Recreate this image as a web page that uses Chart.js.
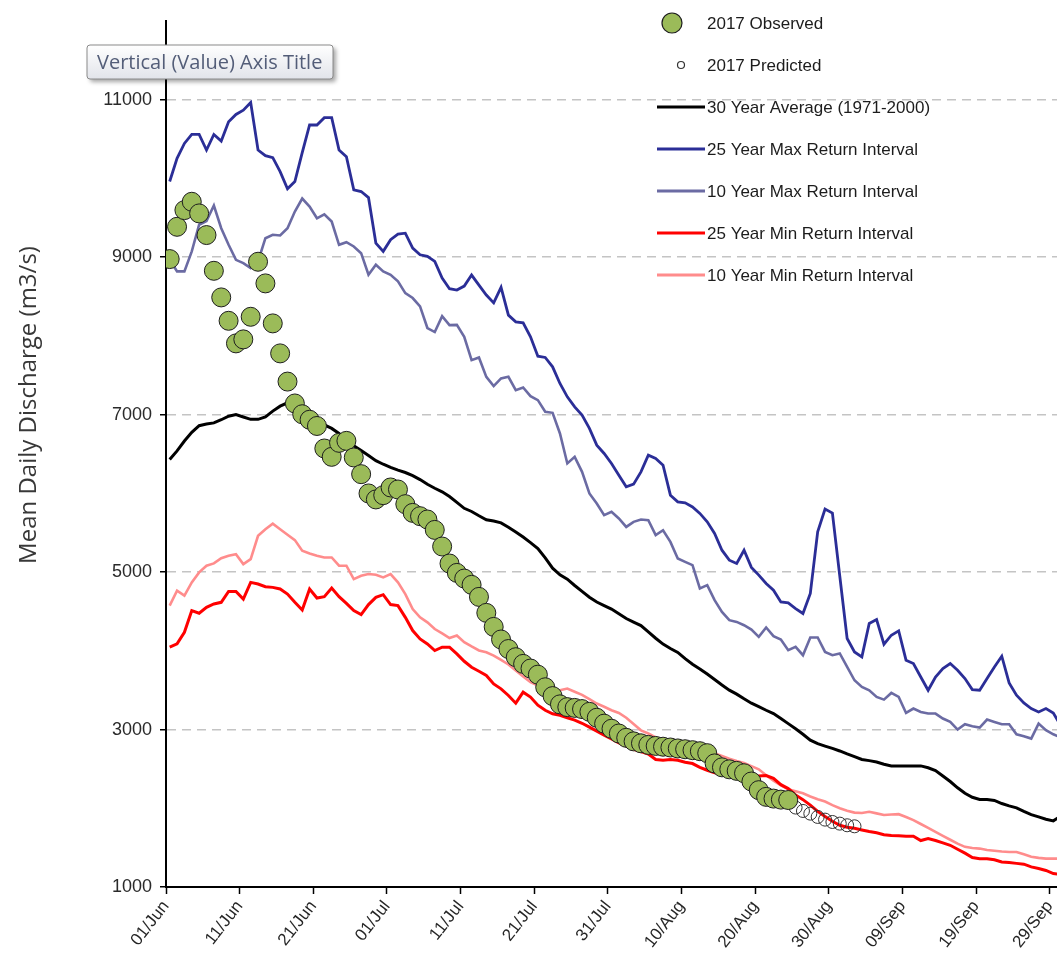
<!DOCTYPE html>
<html>
<head>
<meta charset="utf-8">
<title>Mean Daily Discharge 2017</title>
<script src="https://cdn.jsdelivr.net/npm/chart.js@4.4.1/dist/chart.umd.min.js"></script>
<style>
    html, body { margin: 0; padding: 0; background: #fff; overflow: hidden; }
    #discharge { display: block; }
</style>
</head>
<body>
<canvas id="discharge" width="1057" height="966"></canvas>
<script>
// ===== DATA — daily mean discharge (m3/s), day 0 = 01/Jun =====
const tickDays = [0, 10, 20, 30, 40, 50, 60, 70, 80, 90, 100, 110, 120];
const tickLabels = ['01/Jun', '11/Jun', '21/Jun', '01/Jul', '11/Jul', '21/Jul', '31/Jul',
    '10/Aug', '20/Aug', '30/Aug', '09/Sep', '19/Sep', '29/Sep'];
const valueTicks = [1000, 3000, 5000, 7000, 9000, 11000];

const observed2017 = [
    8976, 9386, 9598, 9704, 9556, 9281, 8827, 8489, 8192, 7905,
    7956, 8243, 8942, 8667, 8159, 7778, 7420, 7142, 7005, 6935,
    6856, 6570, 6464, 6642, 6667, 6456, 6244, 5999, 5923, 5977,
    6075, 6049, 5863, 5752, 5710, 5668, 5536, 5325, 5109, 4990,
    4918, 4838, 4685, 4482, 4304, 4144, 4023, 3919, 3834, 3775,
    3697, 3537, 3425, 3320, 3285, 3275, 3260, 3225, 3150, 3075,
    3010, 2950, 2895, 2850, 2825, 2805, 2792, 2782, 2772, 2760,
    2750, 2738, 2725, 2700, 2570, 2520, 2495, 2475, 2445, 2340,
    2230, 2145, 2123, 2110, 2105
];
const PREDICTED_FIRST_DAY = 85;
const predicted2017 = [2009, 1966, 1932, 1890, 1856, 1826, 1805, 1784, 1771];

const avg30yr = [
    6430, 6540, 6665, 6775, 6860, 6880, 6895, 6935, 6980, 7000,
    6970, 6940, 6940, 6970, 7045, 7108, 7150, 7085, 7035, 6985,
    6925, 6870, 6825, 6760, 6685, 6605, 6545, 6480, 6415, 6370,
    6330, 6295, 6265, 6225, 6175, 6115, 6065, 6020, 5960, 5885,
    5810, 5770, 5715, 5665, 5648, 5625, 5570, 5510, 5445, 5375,
    5300, 5180, 5050, 4965, 4910, 4830, 4755, 4680, 4620, 4575,
    4530, 4470, 4410, 4365, 4320, 4240, 4160, 4085, 4030, 3980,
    3900, 3830, 3770, 3705, 3635, 3565, 3500, 3450, 3390, 3335,
    3290, 3245, 3203, 3140, 3075, 3010, 2940, 2865, 2820, 2790,
    2760, 2728, 2690, 2655, 2620, 2605, 2588, 2560, 2538, 2538,
    2538, 2538, 2538, 2515, 2480, 2410, 2340, 2260, 2190, 2140,
    2112, 2110, 2100, 2060, 2030, 2005, 1960, 1920, 1890, 1860,
    1840, 1900
];
const max25yr = [
    9961, 10256, 10445, 10559, 10559, 10361, 10559, 10475, 10720, 10813,
    10868, 10965, 10361, 10290, 10264, 10087, 9868, 9961, 10327, 10679,
    10679, 10772, 10772, 10361, 10277, 9856, 9834, 9757, 9179, 9074,
    9222, 9292, 9305, 9115, 9030, 9010, 8946, 8735, 8600, 8582,
    8633, 8773, 8646, 8519, 8420, 8617, 8264, 8179, 8166, 7989,
    7743, 7726, 7607, 7396, 7226, 7099, 6994, 6825, 6612, 6507,
    6380, 6231, 6083, 6117, 6273, 6485, 6443, 6358, 5977, 5892,
    5879, 5828, 5745, 5638, 5491, 5278, 5151, 5109, 5278, 5060,
    4961, 4855, 4770, 4621, 4609, 4537, 4474, 4728, 5511, 5800,
    5750, 4950, 4156, 3986, 3923, 4347, 4398, 4084, 4198, 4253,
    3881, 3838, 3668, 3499, 3668, 3775, 3838, 3753, 3648, 3508,
    3499, 3648, 3795, 3931, 3592, 3436, 3338, 3267, 3224, 3267,
    3211, 3050
];
const max10yr = [
    8970, 8820, 8820, 9074, 9412, 9460, 9656, 9368, 9157, 8966,
    8924, 8861, 8946, 9241, 9284, 9276, 9368, 9580, 9745, 9643,
    9494, 9545, 9453, 9157, 9190, 9136, 9051, 8777, 8904, 8820,
    8777, 8693, 8544, 8481, 8376, 8100, 8049, 8250, 8137, 8140,
    7989, 7692, 7726, 7480, 7362, 7460, 7480, 7311, 7345, 7235,
    7184, 7036, 7023, 6761, 6380, 6464, 6273, 5999, 5872, 5723,
    5765, 5681, 5574, 5638, 5668, 5659, 5469, 5532, 5384, 5173,
    5130, 5088, 4792, 4834, 4643, 4494, 4389, 4367, 4325, 4270,
    4177, 4296, 4186, 4144, 4008, 4050, 3944, 4169, 4169, 3986,
    3944, 3966, 3795, 3626, 3541, 3499, 3414, 3380, 3465, 3414,
    3211, 3267, 3224, 3203, 3203, 3140, 3097, 3000, 3067, 3042,
    3025, 3127, 3097, 3067, 3067, 2940, 2915, 2885, 3076, 2991,
    2940, 2900
];
const min25yr = [
    4046, 4088, 4236, 4511, 4477, 4553, 4595, 4616, 4755, 4755,
    4658, 4869, 4848, 4814, 4806, 4785, 4721, 4616, 4518, 4785,
    4671, 4688, 4797, 4688, 4603, 4511, 4460, 4587, 4679, 4713,
    4587, 4574, 4425, 4257, 4151, 4088, 4004, 4046, 4046, 3961,
    3867, 3791, 3741, 3687, 3580, 3517, 3433, 3335, 3475, 3412,
    3310, 3245, 3200, 3182, 3150, 3120, 3080, 3030, 2980, 2930,
    2880, 2830, 2790, 2750, 2720, 2690, 2620, 2610, 2620, 2610,
    2585, 2568, 2520, 2483, 2450, 2441, 2441, 2441, 2420, 2400,
    2410, 2415, 2380, 2300, 2250, 2170, 2110, 2040, 1960, 1895,
    1835, 1784, 1760, 1745, 1725, 1705, 1690, 1665, 1655, 1650,
    1645, 1644, 1590, 1615, 1590, 1560, 1530, 1480, 1430, 1375,
    1360, 1360, 1345, 1318, 1310, 1300, 1290, 1255, 1235, 1210,
    1170, 1160
];
const min10yr = [
    4575, 4764, 4701, 4869, 4996, 5081, 5110, 5177, 5208, 5228,
    5101, 5164, 5461, 5545, 5616, 5545, 5474, 5406, 5271, 5237,
    5208, 5186, 5186, 5081, 5081, 4911, 4954, 4975, 4967, 4933,
    4975, 4869, 4721, 4531, 4425, 4361, 4277, 4222, 4163, 4194,
    4109, 4055, 4004, 3982, 3940, 3885, 3826, 3750, 3674, 3602,
    3560, 3538, 3500, 3499, 3521, 3480, 3440, 3385, 3330, 3290,
    3245, 3210, 3150, 3070, 2990, 2950, 2900, 2870, 2845, 2820,
    2800, 2780, 2760, 2735, 2700, 2665, 2630, 2600, 2575, 2535,
    2495, 2420, 2350, 2290, 2240, 2215, 2190, 2150, 2115, 2085,
    2040, 2000, 1970, 1945, 1940, 1955, 1935, 1915, 1920, 1925,
    1890, 1850, 1800, 1750, 1700, 1650, 1600, 1550, 1510, 1495,
    1488, 1470, 1460, 1450, 1445, 1445, 1415, 1385, 1370, 1360,
    1360, 1360
];

// daily means are stamped at midday, so each value sits half a day past its date tick
function toPoints(values, firstDay) {
    return values.map((v, i) => ({ x: firstDay + i + 0.5, y: v }));
}

function lineSet(label, values, color, width) {
    return {
        label: label,
        data: toPoints(values, 0),
        borderColor: color,
        backgroundColor: color,
        borderWidth: width,
        pointRadius: 0,
        tension: 0,
        fill: false
    };
}

// ===== LEGEND (drawn inside the plot, top right) =====
const LEGEND_X = 657;
const LEGEND_TOP = 23;
const LEGEND_ROW = 42;

const sideLegend = {
    id: 'sideLegend',
    afterDatasetsDraw(chart) {
        const ctx = chart.ctx;
        ctx.save();
        ctx.font = '17px "Liberation Sans", Arial, sans-serif';
        ctx.textBaseline = 'middle';
        chart.data.datasets.forEach((ds, i) => {
            const y = LEGEND_TOP + i * LEGEND_ROW;
            if (ds.showLine === false) {
                const r = ds.legendRadius;
                ctx.beginPath();
                ctx.arc(LEGEND_X + ds.legendOffset, y, r, 0, Math.PI * 2);
                if (ds.pointBackgroundColor !== 'transparent') {
                    ctx.fillStyle = ds.pointBackgroundColor;
                    ctx.fill();
                }
                ctx.lineWidth = 1.2;
                ctx.strokeStyle = ds.pointBorderColor;
                ctx.stroke();
            } else {
                ctx.beginPath();
                ctx.moveTo(LEGEND_X, y);
                ctx.lineTo(LEGEND_X + 48, y);
                ctx.lineWidth = 3;
                ctx.strokeStyle = ds.borderColor;
                ctx.stroke();
            }
            ctx.fillStyle = '#1c1c1c';
            ctx.fillText(ds.label, LEGEND_X + 50, y + 1);
        });
        ctx.restore();
    }
};

// ===== AXIS TITLES =====
const axisTitles = {
    id: 'axisTitles',
    afterDraw(chart) {
        const ctx = chart.ctx;
        ctx.save();

        // value axis title, rotated
        ctx.translate(29, 405);
        ctx.rotate(-Math.PI / 2);
        ctx.font = '24px "Open Sans", sans-serif';
        ctx.fillStyle = '#383838';
        ctx.textAlign = 'center';
        ctx.textBaseline = 'middle';
        ctx.fillText('Mean Daily Discharge (m3/s)', 0, 0);
        ctx.restore();

        // hover label box above the value axis
        ctx.save();
        const bx = 87, by = 45, bw = 246, bh = 34;
        ctx.shadowColor = 'rgba(0, 0, 0, 0.35)';
        ctx.shadowBlur = 4;
        ctx.shadowOffsetX = 3;
        ctx.shadowOffsetY = 3;
        const grad = ctx.createLinearGradient(0, by, 0, by + bh);
        grad.addColorStop(0, '#ffffff');
        grad.addColorStop(1, '#e2e4ea');
        ctx.fillStyle = grad;
        ctx.beginPath();
        ctx.roundRect(bx, by, bw, bh, 3);
        ctx.fill();
        ctx.shadowColor = 'transparent';
        ctx.lineWidth = 1;
        ctx.strokeStyle = '#8a8a8a';
        ctx.stroke();
        ctx.font = '20px "Open Sans", sans-serif';
        ctx.fillStyle = '#535d78';
        ctx.textBaseline = 'middle';
        ctx.fillText('Vertical (Value) Axis Title', bx + 10, by + bh / 2 + 1);
        ctx.restore();
    }
};

// ===== CHART =====
Chart.defaults.font.family = '"Liberation Sans", Arial, sans-serif';

const ctx = document.getElementById('discharge').getContext('2d');
const dischargeChart = new Chart(ctx, {
    type: 'line',
    data: {
        datasets: [
            {
                label: '2017 Observed',
                data: toPoints(observed2017, 0),
                showLine: false,
                pointRadius: 9.5,
                pointBackgroundColor: '#9bbb59',
                pointBorderColor: '#1e1e1e',
                pointBorderWidth: 1,
                legendRadius: 10,
                legendOffset: 15
            },
            {
                label: '2017 Predicted',
                data: toPoints(predicted2017, PREDICTED_FIRST_DAY),
                showLine: false,
                pointRadius: 6.5,
                pointBackgroundColor: 'transparent',
                pointBorderColor: '#333',
                pointBorderWidth: 1,
                legendRadius: 3.5,
                legendOffset: 24
            },
            lineSet('30 Year Average (1971-2000)', avg30yr, '#000000', 3),
            lineSet('25 Year Max Return Interval', max25yr, '#2b2e97', 2.8),
            lineSet('10 Year Max Return Interval', max10yr, '#6b6ba3', 2.6),
            lineSet('25 Year Min Return Interval', min25yr, '#ff0000', 3),
            lineSet('10 Year Min Return Interval', min10yr, '#ff8c8c', 2.6)
        ]
    },
    options: {
        responsive: false,
        animation: false,
        layout: {
            autoPadding: false,
            padding: { top: 21, left: 0, right: 0, bottom: 0 }
        },
        plugins: {
            legend: { display: false },
            tooltip: { enabled: false }
        },
        scales: {
            x: {
                type: 'linear',
                min: 0,
                max: 121,
                afterBuildTicks: (axis) => {
                    axis.ticks = tickDays.map(v => ({ value: v }));
                },
                afterFit: (axis) => {
                    axis.height = 79;
                    axis.paddingLeft = 0;
                    axis.paddingRight = 0;
                },
                ticks: {
                    autoSkip: false,
                    minRotation: 52,
                    maxRotation: 52,
                    padding: 3,
                    color: '#262626',
                    font: { size: 17 },
                    callback: (value) => tickLabels[tickDays.indexOf(value)]
                },
                grid: {
                    drawOnChartArea: false,
                    drawTicks: true,
                    tickLength: 7,
                    tickColor: '#000',
                    tickWidth: 1.5
                },
                border: { display: true, color: '#000', width: 2 }
            },
            y: {
                min: 1000,
                max: 12000,
                afterBuildTicks: (axis) => {
                    axis.ticks = valueTicks.map(v => ({ value: v }));
                },
                afterFit: (axis) => {
                    axis.width = 166;
                    axis.paddingTop = 0;
                    axis.paddingBottom = 0;
                },
                ticks: {
                    padding: 8,
                    color: '#2a2a2a',
                    font: { size: 18 },
                    callback: (value) => String(value)
                },
                grid: {
                    color: '#c4c4c4',
                    lineWidth: 1.5,
                    drawTicks: true,
                    tickLength: 6,
                    tickColor: '#000',
                    tickWidth: 1.5,
                    tickBorderDash: []
                },
                border: { display: true, color: '#000', width: 2, dash: [9, 6] }
            }
        }
    },
    plugins: [sideLegend, axisTitles]
});
</script>
</body>
</html>
